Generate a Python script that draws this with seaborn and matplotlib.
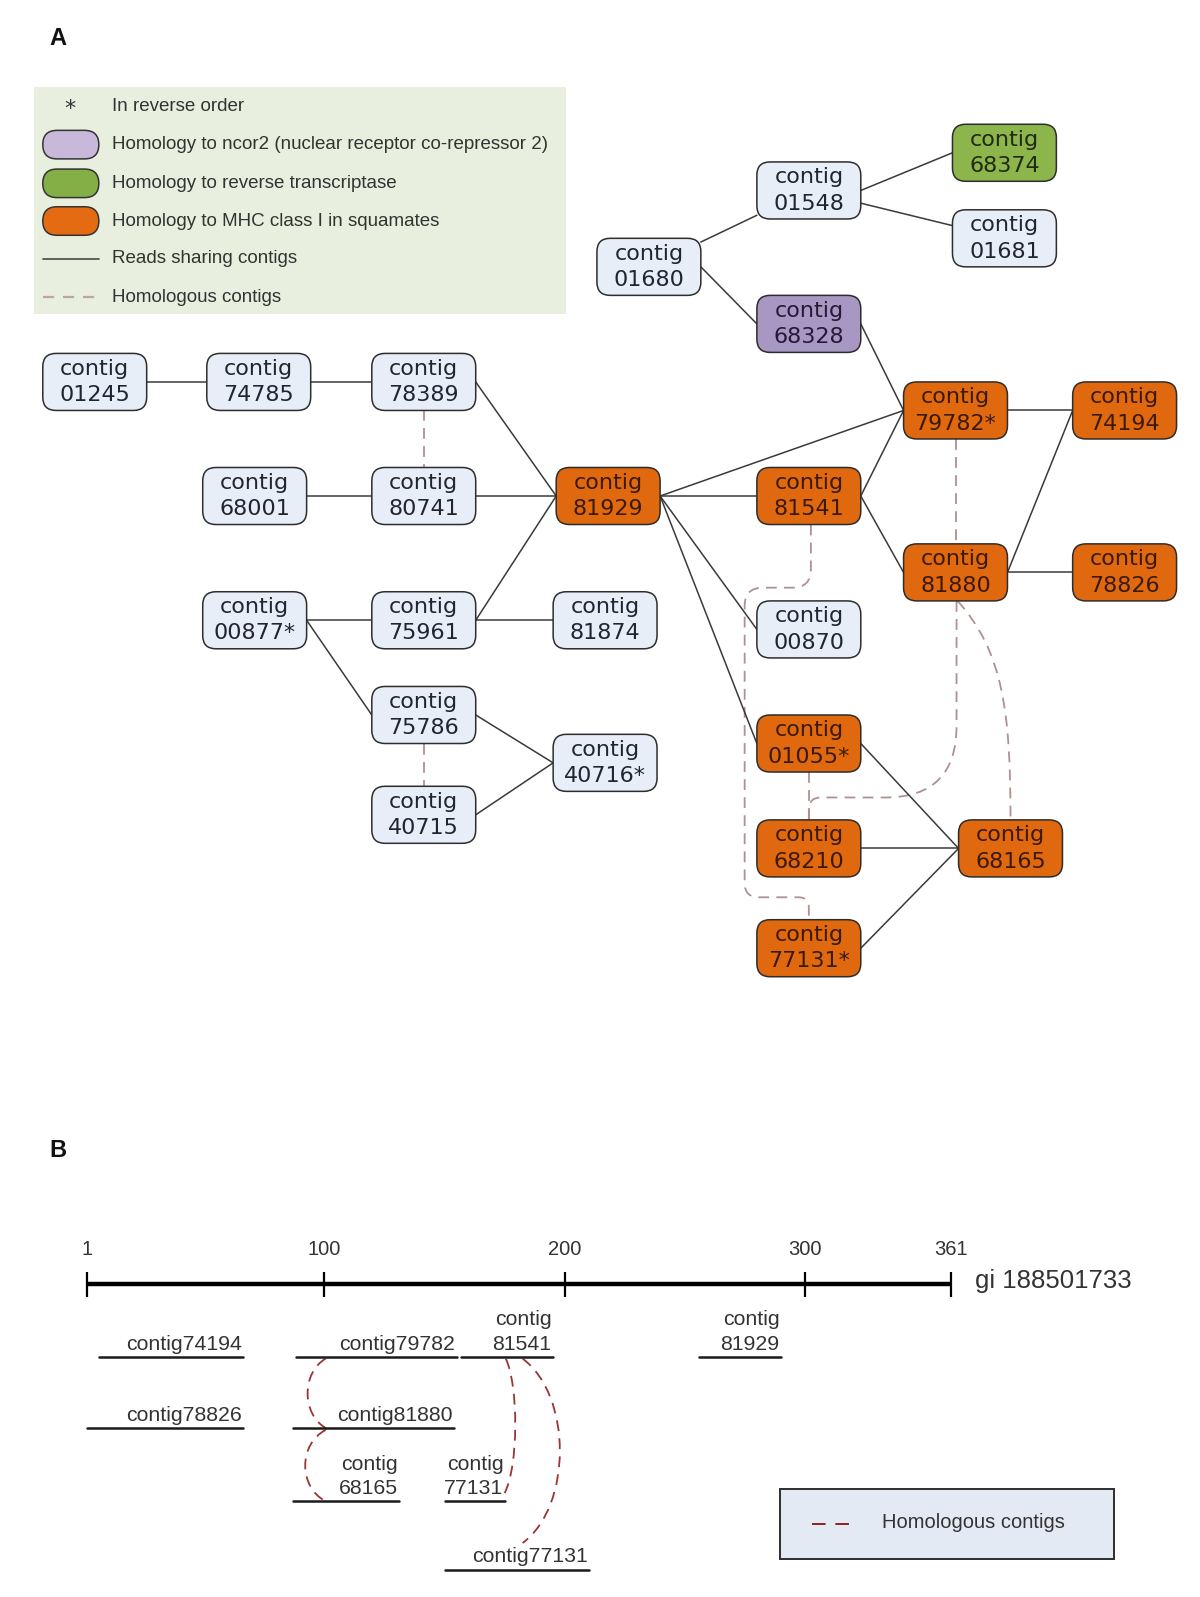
import matplotlib
matplotlib.use("Agg")
import matplotlib.pyplot as plt
from matplotlib.patches import FancyBboxPatch, Rectangle, PathPatch
from matplotlib.path import Path
import seaborn as sns
import pandas as pd
import numpy as np

# ---------------- panel A data (contig graph) ----------------
node_ids = ['01245', '74785', '78389', '68001', '80741', '81929', '00877', '75961', '81874',
            '75786', '40715', '40716', '01680', '01548', '68374', '01681', '68328', '79782',
            '74194', '81541', '81880', '78826', '00870', '01055', '68210', '68165', '77131']
node_x = [93, 254, 416, 250, 416, 597, 250, 416, 594,
          416, 416, 594, 637, 794, 986, 986, 794, 938,
          1104, 794, 938, 1104, 794, 794, 794, 992, 794]
node_y = [375, 375, 375, 487, 487, 487, 609, 609, 609,
          702, 800, 749, 262, 187, 150, 234, 318, 403,
          403, 487, 562, 562, 618, 730, 833, 833, 931]
mhc_nodes = ['81929', '79782', '74194', '81541', '81880', '78826', '01055', '68210', '68165', '77131']
rt_nodes = ['68374']
ncor2_nodes = ['68328']
reverse_nodes = ['00877', '40716', '79782', '01055', '77131']

# reads sharing contigs (left node, right node)
shared_edges = [('01245', '74785'), ('74785', '78389'), ('78389', '81929'), ('68001', '80741'),
                ('80741', '81929'), ('00877', '75961'), ('75961', '81874'), ('75961', '81929'),
                ('00877', '75786'), ('75786', '40716'), ('40715', '40716'), ('81929', '81541'),
                ('81929', '79782'), ('81929', '00870'), ('81929', '01055'), ('01680', '01548'),
                ('01680', '68328'), ('01548', '68374'), ('01548', '01681'), ('68328', '79782'),
                ('81541', '79782'), ('81541', '81880'), ('79782', '74194'), ('81880', '74194'),
                ('81880', '78826'), ('01055', '68165'), ('68210', '68165'), ('77131', '68165')]
# these two are drawn centre to centre (cut at the box edge) instead of side to side
centre_edges = [('01680', '01548'), ('01548', '01681')]
# homologous contigs (upper node, lower node)
homolog_edges = [('78389', '80741'), ('75786', '40715'), ('79782', '81880'), ('01055', '68210')]
homolog_routed = [('81541', '77131'), ('81880', '68210'), ('81880', '68165')]

legend_a_labels = ['In reverse order', 'Homology to ncor2 (nuclear receptor co-repressor 2)',
                   'Homology to reverse transcriptase', 'Homology to MHC class I in squamates',
                   'Reads sharing contigs', 'Homologous contigs']

# ---------------- panel B data (alignment to gi 188501733) ----------------
ref_len = 361
ref_ticks = [1, 100, 200, 300, 361]
b_labels = ['contig74194', 'contig79782', 'contig\n81541', 'contig\n81929', 'contig78826',
            'contig81880', 'contig\n68165', 'contig\n77131', 'contig77131']
b_start = [6, 88, 157, 256, 1, 87, 87, 150, 150]
b_end = [66, 155, 195, 290, 66, 154, 131, 175, 210]
b_row = [0, 0, 0, 0, 1, 1, 2, 2, 3]
# homologous pairs in panel B (index into lists above)
b_homolog = [(1, 5), (5, 6), (2, 7), (2, 8)]

# ---------------- style ----------------
sns.set_theme(style="white")
plt.rcParams['font.family'] = ['DejaVu Sans']
fill = {'none': '#e8eef8', 'mhc': '#e0680f', 'rt': '#8cb54c', 'ncor2': '#a896c3'}
txt_col = {'none': '#1f2633', 'mhc': '#3a1a05', 'rt': '#1f2a10', 'ncor2': '#241a36'}
edge_col = '#3a3a3a'
hom_col = '#b09090'
W, H = 102, 56

fig = plt.figure(figsize=(12, 15.97), dpi=100)
ax = fig.add_axes([0, 0, 1, 1])
ax.set_xlim(0, 1178)
ax.set_ylim(1568, 0)
ax.axis('off')

pos = {n: (x, y) for n, x, y in zip(node_ids, node_x, node_y)}


def kind(n):
    if n in mhc_nodes:
        return 'mhc'
    if n in rt_nodes:
        return 'rt'
    if n in ncor2_nodes:
        return 'ncor2'
    return 'none'


def box_cut(a, b):
    (x0, y0), (x1, y1) = pos[a], pos[b]
    dx, dy = x1 - x0, y1 - y0
    t = min((W / 2) / abs(dx) if dx else 9e9, (H / 2) / abs(dy) if dy else 9e9)
    return (x0 + t * dx, y0 + t * dy), (x1 - t * dx, y1 - t * dy)


# solid edges: right side of left node to left side of right node
rows = []
for i, (a, b) in enumerate(shared_edges):
    if (a, b) in centre_edges:
        p0, p1 = box_cut(a, b)
    else:
        p0 = (pos[a][0] + W / 2, pos[a][1])
        p1 = (pos[b][0] - W / 2, pos[b][1])
    rows.append({'edge': i, 'x': p0[0], 'y': p0[1]})
    rows.append({'edge': i, 'x': p1[0], 'y': p1[1]})
edges_df = pd.DataFrame(rows)
sns.lineplot(data=edges_df, x='x', y='y', units='edge', estimator=None, sort=False,
             color=edge_col, lw=1.1, legend=False, ax=ax)

dash_a = (0, (6, 4))
for a, b in homolog_edges:
    ax.plot([pos[a][0], pos[b][0]], [pos[a][1] + H / 2, pos[b][1] - H / 2],
            color=hom_col, lw=1.3, ls=dash_a, zorder=1)


def rounded_path(pts, radii):
    verts = [pts[0]]
    codes = [Path.MOVETO]
    for i in range(1, len(pts) - 1):
        p0, p1, p2 = (np.array(p, float) for p in pts[i - 1:i + 2])
        r = radii[i - 1]
        d1 = (p1 - p0) / np.linalg.norm(p1 - p0)
        d2 = (p2 - p1) / np.linalg.norm(p2 - p1)
        verts += [p1 - d1 * r, p1, p1 + d2 * r]
        codes += [Path.LINETO, Path.CURVE3, Path.CURVE3]
    verts.append(pts[-1])
    codes.append(Path.LINETO)
    return Path(verts, codes)


lane_x = 731
lane_y = 783
routes = []
(a, b) = homolog_routed[0]
sx, sy = pos[a][0] + 2, pos[a][1] + H / 2
ex, ey = pos[b][0], pos[b][1] - H / 2
routes.append(rounded_path([(sx, sy), (sx, sy + 62), (lane_x, sy + 62), (lane_x, ey - 22),
                            (ex, ey - 22), (ex, ey)], [18, 18, 14, 10]))
(a, b) = homolog_routed[1]
sx, sy = pos[a][0] + 1, pos[a][1] + H / 2
ex, ey = pos[b][0], pos[b][1] - H / 2
routes.append(rounded_path([(sx, sy), (sx, lane_y), (ex, lane_y), (ex, ey)], [70, 12]))
(a, b) = homolog_routed[2]
sx, sy = pos[a][0] + 2, pos[a][1] + H / 2
ex, ey = pos[b][0], pos[b][1] - H / 2
routes.append(Path([(sx, sy), (sx + 45, sy + 50), (ex, sy + 110), (ex, ey)],
                   [Path.MOVETO, Path.CURVE4, Path.CURVE4, Path.CURVE4]))
for p in routes:
    ax.add_patch(PathPatch(p, fc='none', ec=hom_col, lw=1.3, ls=dash_a, zorder=1))

# nodes
for n, x, y in zip(node_ids, node_x, node_y):
    k = kind(n)
    ax.add_patch(FancyBboxPatch((x - W / 2, y - H / 2), W, H,
                                boxstyle="round,pad=0,rounding_size=13",
                                fc=fill[k], ec='#2d2d2d', lw=1.1, zorder=3))
    label = 'contig\n' + n + ('*' if n in reverse_nodes else '')
    ax.text(x, y, label, ha='center', va='center', fontsize=16, linespacing=1.4,
            color=txt_col[k], family='DejaVu Sans', zorder=4)

# legend A
ax.add_patch(Rectangle((33, 85), 523, 223, fc='#e8efdf', ec='none', zorder=0))
leg_y = [105, 142, 180, 217, 254, 292]
ax.text(69, leg_y[0] + 2, '*', ha='center', va='center', fontsize=16, color='#333333')
for yy, k in zip(leg_y[1:4], ['ncor2', 'rt', 'mhc']):
    c = {'ncor2': '#c8b9da', 'rt': '#84ae46', 'mhc': '#e46b12'}[k]
    ax.add_patch(FancyBboxPatch((42, yy - 14), 55, 28, boxstyle="round,pad=0,rounding_size=14",
                                fc=c, ec='#333333', lw=1.1, zorder=3))
ax.plot([42, 97], [leg_y[4], leg_y[4]], color='#555555', lw=1.3)
ax.plot([42, 97], [leg_y[5], leg_y[5]], color='#c0a4a4', lw=1.6, ls=(0, (5, 4)))
for yy, t in zip(leg_y, legend_a_labels):
    ax.text(110, yy, t, ha='left', va='center', fontsize=13.5, color='#333333',
            family='Liberation Sans')

ax.text(57, 38, 'A', ha='center', va='center', fontsize=17, fontweight='bold',
        family='Liberation Sans', color='#111111')
ax.text(57, 1130, 'B', ha='center', va='center', fontsize=17, fontweight='bold',
        family='Liberation Sans', color='#111111')

# ---------------- panel B ----------------
axb = fig.add_axes([0, 0, 1, 1])
axb.patch.set_alpha(0)
k_px = (934 - 85) / (ref_len - 1)
axb.set_xlim(1 - 85 / k_px, 1 + (1178 - 85) / k_px)
axb.set_ylim(1568, 0)
axb.axis('off')

axis_y = 1261
row_y = [1332, 1402, 1474, 1541]
axb.plot([1, ref_len], [axis_y, axis_y], color='black', lw=3.2, solid_capstyle='butt')
axb.vlines(ref_ticks, axis_y - 12, axis_y + 12, color='black', lw=1.6)
for t in ref_ticks:
    axb.text(t, axis_y - 34, str(t), ha='center', va='center', fontsize=14.5,
             color='#333333', family='Liberation Sans')
axb.text(ref_len + 10, axis_y - 3, 'gi 188501733', ha='left', va='center', fontsize=18.5,
         color='#333333', family='Liberation Sans')

seg_rows = []
for i, (s, e, r) in enumerate(zip(b_start, b_end, b_row)):
    seg_rows.append({'seg': i, 'pos': s, 'y': row_y[r]})
    seg_rows.append({'seg': i, 'pos': e, 'y': row_y[r]})
seg_df = pd.DataFrame(seg_rows)
sns.lineplot(data=seg_df, x='pos', y='y', units='seg', estimator=None, color='#1a1a1a',
             lw=1.8, legend=False, ax=axb)
for lab, e, r in zip(b_labels, b_end, b_row):
    axb.text(e - 0.5, row_y[r] - 3, lab, ha='right', va='bottom', multialignment='right',
             fontsize=15.3, linespacing=1.35, color='#333333', family='Liberation Sans')

# homologous arcs in panel B
arc_bulge = [(100.5, 93.0), (100.5, 92.0), (175.5, 179.5), (182.5, 198.0)]
arc_end_pos = [100.5, 100.5, 175.0, 182.5]
for (i, j), (x0, xb), x1 in zip(b_homolog, arc_bulge, arc_end_pos):
    y0 = row_y[b_row[i]] + 2
    y1 = row_y[b_row[j]] - (8 if (i, j) == (2, 7) else 0)
    if (i, j) == (2, 8):
        y1 = row_y[b_row[j]] - 26
    cx = x0 + (xb - x0) / 0.75
    p = Path([(x0, y0), (cx, y0 + (y1 - y0) * 0.2), (cx, y0 + (y1 - y0) * 0.8), (x1, y1)],
             [Path.MOVETO, Path.CURVE4, Path.CURVE4, Path.CURVE4])
    axb.add_patch(PathPatch(p, fc='none', ec='#9a3535', lw=1.3, ls=(0, (6, 4))))

# legend B
ax.add_patch(Rectangle((766, 1462), 328, 69, fc='#e4eaf4', ec='#2d2d2d', lw=1.4, zorder=2))
ax.plot([797, 837], [1496, 1496], color='#8b2323', lw=1.4, ls=(0, (7, 5)), zorder=3)
ax.text(866, 1495, 'Homologous contigs', ha='left', va='center', fontsize=14.5,
        color='#333333', family='Liberation Sans', zorder=3)

fig.savefig('out.png', dpi=100, facecolor='white')
